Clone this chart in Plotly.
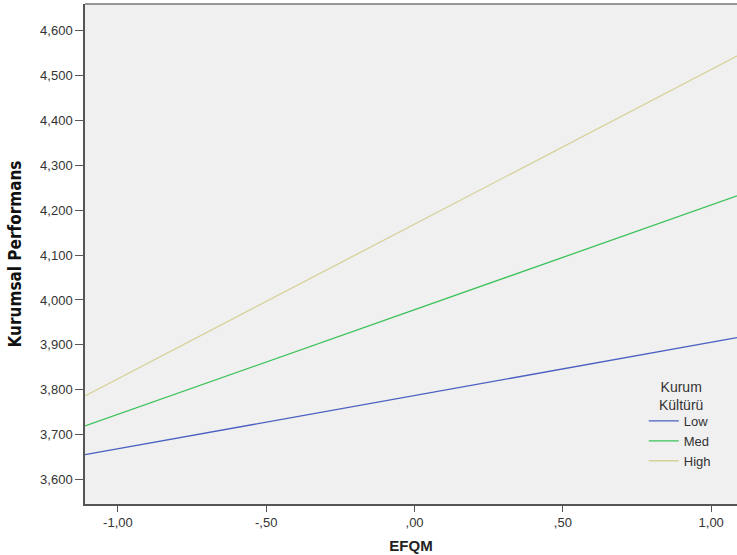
import plotly.graph_objects as go

# Data
efqm = [-1.111, 1.087]
series_names = ["Low", "Med", "High"]
low_vals = [3.655, 3.916]
med_vals = [3.719, 4.232]
high_vals = [3.786, 4.544]
series_vals = [low_vals, med_vals, high_vals]
colors = ["#4a5fc0", "#3dc25a", "#d6d29a"]

y_ticks = [3.6, 3.7, 3.8, 3.9, 4.0, 4.1, 4.2, 4.3, 4.4, 4.5, 4.6]
y_ticktext = ["3,600", "3,700", "3,800", "3,900", "4,000", "4,100", "4,200",
              "4,300", "4,400", "4,500", "4,600"]
x_ticks = [-1.0, -0.5, 0.0, 0.5, 1.0]
x_ticktext = ["-1,00", "-,50", ",00", ",50", "1,00"]

fig = go.Figure()
for name, vals, c in zip(series_names, series_vals, colors):
    fig.add_trace(go.Scatter(x=efqm, y=vals, mode="lines", name=name,
                             line=dict(color=c, width=1.3)))

font_family = "Liberation Sans, Arial, sans-serif"
fig.update_layout(
    width=737, height=555,
    margin=dict(l=85, r=0, t=4, b=51),
    paper_bgcolor="white",
    plot_bgcolor="#f0f0f0",
    font=dict(family=font_family, size=13, color="#333333"),
    showlegend=True,
    legend=dict(x=0.857, y=0.196, xanchor="left", yanchor="top",
                bgcolor="rgba(0,0,0,0)", font=dict(size=13, color="#333333"),
                itemwidth=30, tracegroupgap=0),
    xaxis=dict(range=[-1.111, 1.087], tickvals=x_ticks, ticktext=x_ticktext,
               showgrid=False, zeroline=False, showline=True, linecolor="#555555",
               linewidth=1.5, ticks="outside", ticklen=6, tickcolor="#555555",
               title=dict(text="<b>EFQM</b>", font=dict(size=15, color="#222222"),
                          standoff=11)),
    yaxis=dict(range=[3.545, 4.66], tickvals=y_ticks, ticktext=y_ticktext,
               showgrid=False, zeroline=False, showline=True, linecolor="#555555",
               linewidth=1.5, ticks="outside", ticklen=8, tickcolor="#555555",
               title=dict(text="<b>Kurumsal Performans</b>",
                          font=dict(size=17, color="#111111",
                                    family="Liberation Sans Narrow, DejaVu Sans Condensed, Liberation Sans"),
                          standoff=14)),
    annotations=[dict(text="Kurum<br>Kültürü", xref="paper", yref="paper",
                      x=0.914, y=0.217, xanchor="center", yanchor="middle",
                      showarrow=False, align="center",
                      font=dict(size=14, color="#333333"))],
    shapes=[dict(type="line", xref="paper", yref="paper", x0=0, x1=1, y0=1, y1=1,
                 line=dict(color="#777777", width=1.5))],
)

fig.write_html("out.html", config={"displayModeBar": False},
               post_script="document.body.style.margin='0';document.body.style.overflow='hidden';")
